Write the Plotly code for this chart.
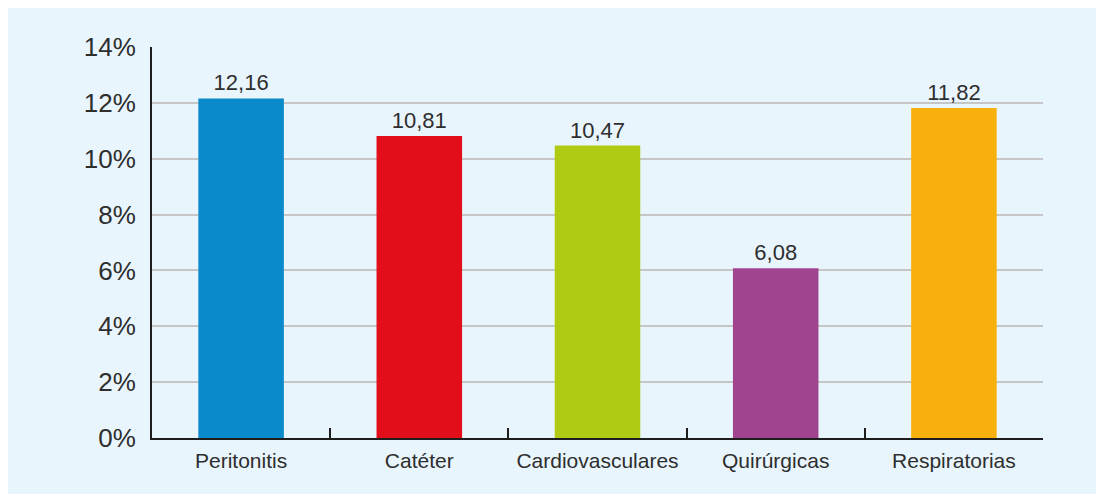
import plotly.graph_objects as go

# data
categorias = ["Peritonitis", "Catéter", "Cardiovasculares", "Quirúrgicas", "Respiratorias"]
valores = [12.16, 10.81, 10.47, 6.08, 11.82]
colores = ["#0b8acb", "#e20e19", "#b0cb14", "#a1448f", "#f8b00d"]
y_ticks = [0, 2, 4, 6, 8, 10, 12, 14]
y_labels = [f"{t}%" for t in y_ticks]

texto = [f"{v:.2f}".replace(".", ",") for v in valores]

# the page puts the figure 8px in from the top-left corner
W, H = 1096, 492
L, R, T, B = 144, 61, 39, 62
pw, ph = W - L - R, H - T - B

fig = go.Figure()
fig.add_trace(go.Bar(
    x=categorias,
    y=valores,
    marker=dict(color=colores, line=dict(width=0)),
    text=texto,
    textposition="outside",
    cliponaxis=False,
    textfont=dict(size=22, color="#2e2e2e"),
))

font = "Liberation Sans, Arial, sans-serif"
fig.update_layout(
    width=W,
    height=H,
    margin=dict(l=L, r=R, t=T, b=B, autoexpand=False),
    paper_bgcolor="white",
    plot_bgcolor="rgba(0,0,0,0)",
    font=dict(family=font, color="#2e2e2e"),
    bargap=0.52,
    showlegend=False,
    shapes=[dict(
        type="rect", xref="paper", yref="paper", layer="below",
        x0=-L / pw, x1=(1091 - L) / pw,
        y0=-(486 - (H - B)) / ph, y1=1 + T / ph,
        fillcolor="#e9f5fd", line=dict(width=0),
    )],
)
fig.update_yaxes(
    range=[0, 14],
    tickvals=y_ticks,
    ticktext=y_labels,
    tickfont=dict(size=26, color="#2e2e2e"),
    showgrid=True, gridcolor="#c6c6c6", gridwidth=2,
    showline=True, linecolor="#1e1e1e", linewidth=2,
    zeroline=False, automargin=False,
    ticks="", ticklabelstandoff=9,
)
fig.update_xaxes(
    tickfont=dict(size=21, color="#2e2e2e"),
    tickangle=0, automargin=False,
    showline=True, linecolor="#1e1e1e", linewidth=2,
    ticks="inside", tickson="boundaries", ticklen=10, tickwidth=2, tickcolor="#1e1e1e",
    ticklabelstandoff=3,
)

fig.write_html("out.html")
